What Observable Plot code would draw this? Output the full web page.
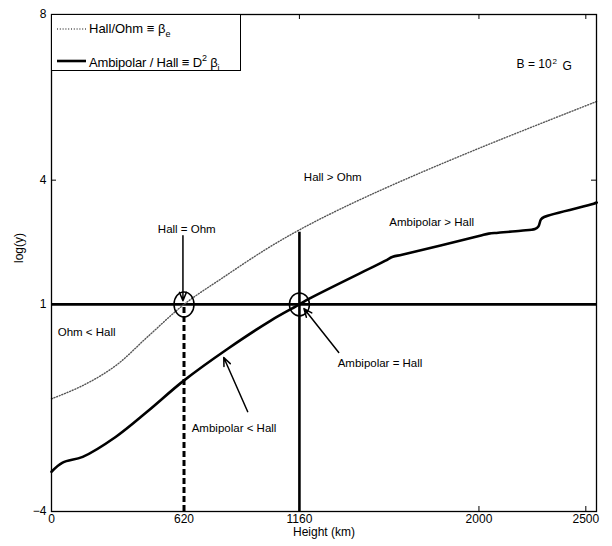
<!DOCTYPE html>
<html><head><meta charset="utf-8">
<script src="https://cdn.jsdelivr.net/npm/d3@7"></script>
<script src="https://cdn.jsdelivr.net/npm/@observablehq/plot@0.6"></script>
<style>
body{margin:0;background:#fff;}
#wrap{position:relative;width:612px;height:546px;font-family:Arial,"Liberation Sans",Helvetica,sans-serif;}
#legend{position:absolute;left:51px;top:14px;width:190px;height:57px;border:1.3px solid #000;background:#fff;box-sizing:border-box;font-size:13px;color:#000;}
#legend .t{position:absolute;left:37px;white-space:nowrap;line-height:1;}
#legend svg{position:absolute;left:0;top:0;}
sub{font-size:9px;vertical-align:-4px;}
sup{font-size:9px;vertical-align:6px;}
</style></head>
<body><div id="wrap"></div>
<script>
// ---- data ----
const xTicks = [0, 620, 1160, 2000, 2500];
const yTicks = [-4, 1, 4, 8];
const xDomain = [0, 2550];
const yDomain = [-4, 8];

// Hall/Ohm (beta_e), dotted
const hallOhmX = [0, 150, 300, 450, 620, 800, 1000, 1160, 1350, 1620, 2010, 2551];
const hallOhmY = [-1.28, -0.95, -0.48, 0.22, 1.0, 1.64, 2.32, 2.80, 3.30, 3.94, 4.79, 5.90];

// Ambipolar/Hall (D^2 beta_i), solid
const ambiX = [0, 52, 146, 300, 450, 619, 825, 1026, 1160, 1199, 1560, 1597, 1640, 2000, 2046, 2090, 2196, 2262, 2278, 2290, 2305, 2537, 2551];
const ambiY = [-3.04, -2.82, -2.68, -2.20, -1.58, -0.84, -0.07, 0.61, 1.0, 1.12, 2.05, 2.15, 2.20, 2.65, 2.71, 2.73, 2.78, 2.82, 2.88, 3.05, 3.11, 3.43, 3.46];

const unityLevel = [1];
const hallOhmCross = [620];
const ambiHallCross = [1160];
const ambiCrossTop = [2.74];

// annotations
const labelText = ["Hall > Ohm", "Ambipolar > Hall", "Hall = Ohm"];
const labelX = [1316, 1779, 633];
const labelY = [4.06, 2.98, 2.81];
const leftText = ["Ohm < Hall", "Ambipolar < Hall", "Ambipolar = Hall"];
const leftX = [29, 656, 1339];
const leftY = [0.32, -1.98, -0.43];
const fieldText = ["B = 10"];
const fieldPower = ["2"];
const fieldUnit = [" G"];
const fieldX = [2176];
const fieldY = [6.80];

const arrowX1 = [615, 1344, 918];
const arrowY1 = [2.66, -0.16, -1.59];
const arrowX2 = [615, 1181, 806];
const arrowY2 = [1.09, 0.90, -0.28];

// ---- build ----
const W = 612, H = 546, mL = 51, mR = 16, mT = 14, mB = 35;
const innerW = W - mL - mR, innerH = H - mT - mB;
const hallOhm = hallOhmX.map((x, i) => ({x, y: hallOhmY[i]}));
const ambi = ambiX.map((x, i) => ({x, y: ambiY[i]}));
const labels = labelText.map((t, i) => ({t, x: labelX[i], y: labelY[i]}));
const lefts = leftText.map((t, i) => ({t, x: leftX[i], y: leftY[i]}));
const fields = fieldText.map((t, i) => ({t, x: fieldX[i], y: fieldY[i]}));
const arrows = arrowX1.map((x1, i) => ({x1, y1: arrowY1[i], x2: arrowX2[i], y2: arrowY2[i]}));
const circles = [{x: hallOhmCross[0], y: unityLevel[0]}];
const circles2 = [{x: ambiHallCross[0], y: unityLevel[0]}];

function ellipseSymbol(rx, ry) {
  const k = 0.5523;
  return {draw(ctx) {
    ctx.moveTo(rx, 0);
    ctx.bezierCurveTo(rx, k * ry, k * rx, ry, 0, ry);
    ctx.bezierCurveTo(-k * rx, ry, -rx, k * ry, -rx, 0);
    ctx.bezierCurveTo(-rx, -k * ry, -k * rx, -ry, 0, -ry);
    ctx.bezierCurveTo(k * rx, -ry, rx, -k * ry, rx, 0);
    ctx.closePath();
  }};
}

const chart = Plot.plot({
  width: W, height: H,
  marginLeft: mL, marginRight: mR, marginTop: mT, marginBottom: mB,
  style: {fontFamily: "Arial, 'Liberation Sans', sans-serif", fontSize: "12px", color: "#000", background: "#fff"},
  x: {domain: xDomain, ticks: xTicks, tickSize: 0, tickPadding: 3, label: null, tickFormat: d => String(d)},
  y: {domain: yDomain, ticks: yTicks, tickSize: 0, tickPadding: 5, label: null, tickFormat: d => d < 0 ? "\u2212" + (-d) : String(d)},
  marks: [
    // inward ticks (MATLAB box)
    Plot.ruleX(xTicks, {insetTop: innerH - 5, stroke: "#000", strokeWidth: 1}),
    Plot.ruleX(xTicks, {insetBottom: innerH - 5, stroke: "#000", strokeWidth: 1}),
    Plot.ruleY(yTicks, {insetRight: innerW - 5, stroke: "#000", strokeWidth: 1}),
    Plot.ruleY(yTicks, {insetLeft: innerW - 5, stroke: "#000", strokeWidth: 1}),
    // reference lines
    Plot.ruleY(unityLevel, {stroke: "#000", strokeWidth: 2.6}),
    Plot.ruleX(hallOhmCross, {y1: yDomain[0], y2: unityLevel[0], stroke: "#000", strokeWidth: 3, strokeDasharray: "6,3"}),
    Plot.ruleX(ambiHallCross, {y1: yDomain[0], y2: ambiCrossTop[0], stroke: "#000", strokeWidth: 2.6}),
    // curves
    Plot.line(hallOhm, {x: "x", y: "y", stroke: "#555", strokeWidth: 1.4, strokeDasharray: "1,1.8", curve: "catmull-rom"}),
    Plot.line(ambi, {x: "x", y: "y", stroke: "#000", strokeWidth: 2.6, curve: "catmull-rom", strokeLinejoin: "round"}),
    // ellipses
    Plot.dot(circles, {x: "x", y: "y", symbol: ellipseSymbol(10, 12.5), stroke: "#000", strokeWidth: 1.5, fill: "none"}),
    Plot.dot(circles2, {x: "x", y: "y", symbol: ellipseSymbol(10, 11.5), stroke: "#000", strokeWidth: 1.5, fill: "none"}),
    // arrows
    Plot.arrow(arrows, {x1: "x1", y1: "y1", x2: "x2", y2: "y2", stroke: "#000", strokeWidth: 1.5, headLength: 9, headAngle: 45}),
    // annotation text
    Plot.text(labels, {x: "x", y: "y", text: "t", textAnchor: "middle", fontSize: 11.5, fill: "#000"}),
    Plot.text(lefts, {x: "x", y: "y", text: "t", textAnchor: "start", fontSize: 11.5, fill: "#000"}),
    Plot.text(fields, {x: "x", y: "y", text: "t", textAnchor: "start", fontSize: 12, fill: "#000"}),
    // axis titles
    Plot.text(["Height (km)"], {frameAnchor: "bottom", dy: 24, fontSize: 12, fill: "#000"}),
    Plot.text(["log(y)"], {frameAnchor: "left", dx: -32, rotate: -90, fontSize: 12, fill: "#000"}),
    Plot.frame({stroke: "#000", strokeWidth: 1.3})
  ]
});

const wrap = document.getElementById("wrap");
wrap.appendChild(chart);

// superscript in the field label
d3.select(chart).selectAll("text").filter(function() { return this.textContent === fieldText[0]; })
  .each(function() {
    const t = d3.select(this);
    t.append("tspan").attr("dy", "-0.5em").attr("font-size", 8).attr("dx", 1).text(fieldPower[0]);
    t.append("tspan").attr("dy", "0.5em").attr("dx", 2).text(fieldUnit[0]);
  });

// legend overlay (inside the axes, top-left)
const legend = document.createElement("div");
legend.id = "legend";
legend.innerHTML = `
<svg width="40" height="57">
  <line x1="5" x2="34" y1="14" y2="14" stroke="#555" stroke-width="1.4" stroke-dasharray="1,1.8"/>
  <line x1="5" x2="34" y1="46" y2="46" stroke="#000" stroke-width="2.6"/>
</svg>
<span class="t" style="top:7px">Hall/Ohm \u2261 \u03B2<sub>e</sub></span>
<span class="t" style="top:39px;letter-spacing:-0.15px">Ambipolar / Hall \u2261 D<sup>2</sup> \u03B2<sub>i</sub></span>`;
wrap.appendChild(legend);
</script>
</body></html>
